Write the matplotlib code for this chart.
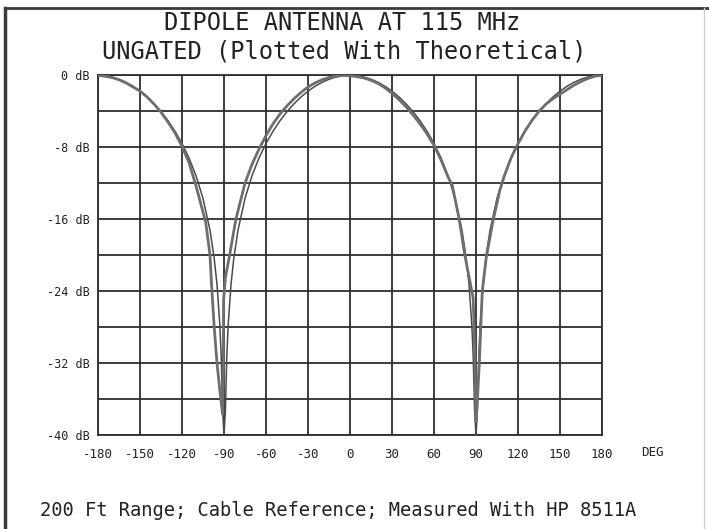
import matplotlib
matplotlib.use("Agg")
import matplotlib.pyplot as plt
from matplotlib.lines import Line2D

# ---- data ----
theory_deg = [-180, -175, -170, -165, -160, -155, -150, -145, -140, -135, -130, -125,
              -120, -115, -110, -105, -100, -97, -95, -93, -92, -91, -90, -89, -88,
              -87, -85, -83, -80, -75, -70, -65, -60, -55, -50, -45, -40, -35, -30,
              -25, -20, -15, -10, -5, 0, 5, 10, 15, 20, 25, 30, 35, 40, 45, 50, 55,
              60, 65, 70, 75, 80, 83, 85, 87, 88, 89, 90, 91, 92, 93, 95, 97, 100,
              105, 110, 115, 120, 125, 130, 135, 140, 145, 150, 155, 160, 165, 170,
              175, 180]
theory_db = [0.0, -0.05, -0.19, -0.44, -0.78, -1.22, -1.76, -2.41, -3.17, -4.04, -5.05,
             -6.22, -7.58, -9.19, -11.17, -13.69, -17.24, -20.35, -23.26, -27.72, -31.2,
             -37.3, -40.0, -37.3, -31.2, -27.72, -23.26, -20.35, -17.24, -13.69, -11.17,
             -9.19, -7.58, -6.22, -5.05, -4.04, -3.17, -2.41, -1.76, -1.22, -0.78, -0.44,
             -0.19, -0.05, 0.0, -0.05, -0.19, -0.44, -0.78, -1.22, -1.76, -2.41, -3.17,
             -4.04, -5.05, -6.22, -7.58, -9.19, -11.17, -13.69, -17.24, -20.35, -23.26,
             -27.72, -31.2, -37.3, -40.0, -37.3, -31.2, -27.72, -23.26, -20.35, -17.24,
             -13.69, -11.17, -9.19, -7.58, -6.22, -5.05, -4.04, -3.17, -2.41, -1.76,
             -1.22, -0.78, -0.44, -0.19, -0.05, 0.0]

meas_deg = [-180, -175, -170, -165, -160, -155, -150, -145, -140, -135, -130, -125,
            -120, -115, -110, -105, -103, -100, -99, -97, -95, -93, -91, -90.5, -90.3,
            -89, -86, -81.5, -75, -70, -65, -60, -55, -50, -45, -40, -35, -30, -25,
            -20, -15, -10, -5, 0, 5, 10, 15, 20, 25, 30, 35, 40, 45, 50, 55, 60, 65,
            70, 73, 78, 82, 86, 88, 89.3, 90, 91, 92.4, 93.4, 94.5, 97.3, 102, 107,
            110, 115, 120, 125, 130, 135, 140, 145, 150, 155, 160, 165, 170, 175, 180]
meas_db = [0.0, -0.1, -0.25, -0.5, -0.85, -1.3, -1.75, -2.4, -3.2, -4.1, -5.2, -6.4,
           -7.9, -9.7, -12.3, -15.2, -16.4, -20.0, -23.0, -28.0, -32.0, -35.0, -37.7,
           -32.0, -25.0, -22.5, -20.0, -16.0, -12.0, -9.9, -8.2, -6.7, -5.4, -4.3, -3.4,
           -2.6, -1.9, -1.3, -0.85, -0.5, -0.25, -0.1, 0.0, -0.05, -0.15, -0.3, -0.55,
           -0.9, -1.4, -2.0, -2.7, -3.5, -4.4, -5.4, -6.5, -7.8, -9.4, -11.3, -12.2,
           -16.0, -20.0, -23.2, -24.8, -32.0, -38.5, -36.0, -32.0, -28.0, -24.0, -20.3,
           -16.3, -12.8, -11.3, -9.2, -7.6, -6.2, -5.0, -4.0, -3.2, -2.6, -2.1, -1.6,
           -1.1, -0.7, -0.35, -0.1, 0.0]

x_ticks = [-180, -150, -120, -90, -60, -30, 0, 30, 60, 90, 120, 150, 180]
x_labels = ["-180", "-150", "-120", "-90", "-60", "-30", "0", "30", "60", "90",
            "120", "150", "180"]
y_ticks = [0, -4, -8, -12, -16, -20, -24, -28, -32, -36, -40]
y_labels = ["0 dB", "", "-8 dB", "", "-16 dB", "", "-24 dB", "", "-32 dB", "", "-40 dB"]

title1 = "DIPOLE ANTENNA AT 115 MHz"
title2 = "UNGATED (Plotted With Theoretical)"
footer = "200 Ft Range; Cable Reference; Measured With HP 8511A"

# ---- figure ----
FONT = "DejaVu Sans Mono"
W, H = 709, 529
fig = plt.figure(figsize=(W / 100, H / 100), dpi=100, facecolor="white")

ax = fig.add_axes([98 / W, 1 - 435 / H, (602 - 98) / W, (435 - 75.3) / H])
ax.set_xlim(-180, 180)
ax.set_ylim(-40, 0)

grid_c = "#2e2e2e"
ax.set_xticks(x_ticks)
ax.set_xticklabels(x_labels, fontfamily=FONT, fontsize=9, color="#222")
ax.set_yticks(y_ticks)
ax.set_yticklabels(y_labels, fontfamily=FONT, fontsize=8.5, color="#222")
ax.tick_params(length=0, pad=6)
ax.tick_params(axis="x", pad=9)
ax.grid(True, color=grid_c, lw=1.3)
for s in ax.spines.values():
    s.set_color(grid_c)
    s.set_linewidth(1.3)
ax.set_axisbelow(True)

ax.plot(theory_deg, theory_db, color="#4a4a4a", lw=1.1, clip_on=True, zorder=3)
ax.plot(meas_deg, meas_db, color="#6e6e6e", lw=2.0, clip_on=True, zorder=4)

fig.text(652 / W, 1 - 452 / H, "DEG", fontfamily=FONT, fontsize=9, color="#222",
         ha="center", va="center")
fig.text(342 / W, 1 - 23 / H, title1, fontfamily=FONT, fontsize=17, color="#222",
         ha="center", va="center")
fig.text(344 / W, 1 - 51 / H, title2, fontfamily=FONT, fontsize=17, color="#222",
         ha="center", va="center")
fig.text(40 / W, 1 - 511 / H, footer, fontfamily=FONT, fontsize=13.5, color="#222",
         ha="left", va="center")

# page frame (top and left edges, faint right edge)
fig.add_artist(Line2D([5 / W, 5 / W], [0, 1 - 8 / H], color="#3a3a3a", lw=2.5,
                      transform=fig.transFigure))
fig.add_artist(Line2D([5 / W, 1], [1 - 8 / H, 1 - 8 / H], color="#3a3a3a", lw=2.0,
                      transform=fig.transFigure))
fig.add_artist(Line2D([704 / W, 704 / W], [0, 1 - 8 / H], color="#cfcfcf", lw=1.0,
                      transform=fig.transFigure))

fig.savefig("out.png", dpi=100, facecolor="white")
